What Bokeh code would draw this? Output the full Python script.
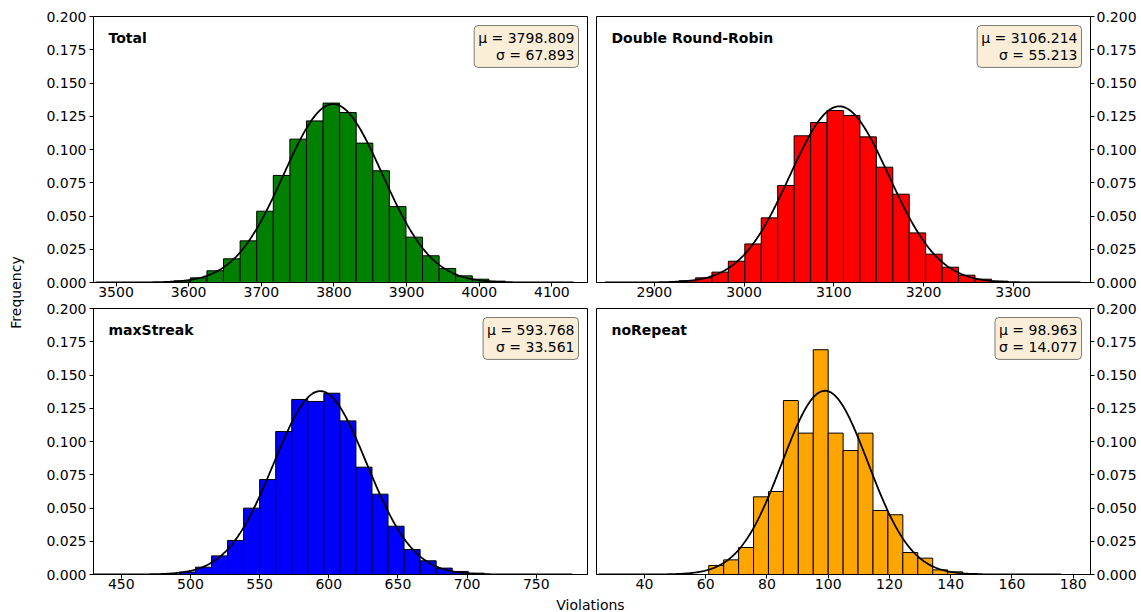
import numpy as np
from math import pi
from bokeh.plotting import figure
from bokeh.layouts import row, column
from bokeh.models import Range1d, FixedTicker, Label, PrintfTickFormatter, ColumnDataSource
from bokeh.embed import file_html
from bokeh.resources import INLINE

# ---------------- data ----------------
titles = ["Total", "Double Round-Robin", "maxStreak", "noRepeat"]
mu = [3798.809, 3106.214, 593.768, 98.963]
sigma = [67.893, 55.213, 33.561, 14.077]
bar_colors = ["#008000", "#ff0000", "#0000ff", "#ffa500"]

total_first_edge = 3579.5
total_bin_width = 22.83
total_freq = [0.0012, 0.0035, 0.0088, 0.0178, 0.0313, 0.0536, 0.0805, 0.1078, 0.1215, 0.1349,
              0.1278, 0.1048, 0.0840, 0.0571, 0.0341, 0.0201, 0.0105, 0.0050, 0.0025, 0.0010]

drr_first_edge = 2927.5
drr_bin_width = 18.33
drr_freq = [0.0013, 0.0035, 0.0078, 0.0160, 0.0290, 0.0486, 0.0729, 0.1103, 0.1203, 0.1293,
            0.1256, 0.1095, 0.0867, 0.0664, 0.0373, 0.0213, 0.0115, 0.0055, 0.0025, 0.0010]

streak_first_edge = 492.0
streak_bin_width = 11.6
streak_freq = [0.0018, 0.0055, 0.0140, 0.0256, 0.0499, 0.0714, 0.1075, 0.1316, 0.1301, 0.1363,
               0.1155, 0.0807, 0.0604, 0.0363, 0.0188, 0.0103, 0.0048, 0.0023, 0.0010]

norepeat_first_edge = 61.0
norepeat_bin_width = 4.875
norepeat_freq = [0.0068, 0.0110, 0.0203, 0.0584, 0.0624, 0.1308, 0.1063, 0.1690, 0.1063, 0.0932,
                 0.1063, 0.0481, 0.0449, 0.0165, 0.0123, 0.0035, 0.0020, 0.0007]

total_ticks = [3500, 3600, 3700, 3800, 3900, 4000, 4100]
drr_ticks = [2900, 3000, 3100, 3200, 3300]
streak_ticks = [450, 500, 550, 600, 650, 700, 750]
norepeat_ticks = [40, 60, 80, 100, 120, 140, 160, 180]
freq_ticks = [0.0, 0.025, 0.05, 0.075, 0.1, 0.125, 0.15, 0.175, 0.2]

x_limits = [(3469.0, 4149.0), (2835.5, 3386.2), (429.9, 787.0), (24.35, 185.65)]
curve_spans = [(3472.0, 4130.0), (2845.0, 3375.0), (430.0, 776.0), (25.0, 176.0)]

x_label = "Violations"
y_label = "Frequency"

FONT = "DejaVu Sans"
FW, FH = 494, 266


def make_panel(i, first_edge, bin_w, freq, ticks, right_axis, top_row):
    n = len(freq)
    left = [first_edge + k * bin_w for k in range(n)]
    right = [first_edge + (k + 1) * bin_w for k in range(n)]
    xr = x_limits[i]
    p = figure(
        frame_width=FW, frame_height=FH,
        x_range=Range1d(*xr), y_range=Range1d(0, 0.2),
        y_axis_location="right" if right_axis else "left",
        toolbar_location=None, output_backend="svg",
        min_border_left=5 if right_axis else 63,
        min_border_right=51 if right_axis else 4,
        min_border_top=16 if top_row else 14,
        min_border_bottom=22,
        background_fill_color="white",
        border_fill_color="white", border_fill_alpha=1.0 if top_row else 0.0,
        outline_line_color="black", outline_line_width=1,
    )
    p.grid.visible = False
    src = ColumnDataSource(dict(left=left, right=right, top=freq, bottom=[0] * n))
    p.quad(left="left", right="right", top="top", bottom="bottom", source=src,
           fill_color=bar_colors[i], line_color="black", line_width=1)
    # fitted normal curve (from the mu / sigma shown in the panel), scaled to bin width
    xs = np.linspace(curve_spans[i][0], curve_spans[i][1], 500)
    ys = bin_w * np.exp(-0.5 * ((xs - mu[i]) / sigma[i]) ** 2) / (sigma[i] * np.sqrt(2 * np.pi))
    p.line(xs, ys, line_color="black", line_width=1.8)

    p.xaxis.ticker = FixedTicker(ticks=ticks)
    p.yaxis.ticker = FixedTicker(ticks=freq_ticks)
    p.yaxis.formatter = PrintfTickFormatter(format="%.3f")
    for ax in (p.xaxis, p.yaxis):
        ax.axis_line_color = "black"
        ax.major_tick_line_color = "black"
        ax.minor_tick_line_color = None
        ax.major_tick_in = 0
        ax.major_tick_out = 4
        ax.major_label_text_font = FONT
        ax.major_label_text_font_size = "14px"
        ax.major_label_text_color = "black"
    p.xaxis.major_label_standoff = 0
    p.yaxis.major_label_standoff = 3 if not right_axis else 2

    span = xr[1] - xr[0]
    p.add_layout(Label(x=xr[0] + 15 / FW * span, y=0.2 - 21 / FH * 0.2, text=titles[i],
                       text_font=FONT, text_font_size="14px", text_font_style="bold",
                       text_baseline="middle", text_align="left", text_color="black"))
    stats = "\u03bc = %.3f\n\u03c3 = %.3f" % (mu[i], sigma[i])
    p.add_layout(Label(x=xr[1] - 9 / FW * span, y=0.2 - 9 / FH * 0.2, text=stats,
                       text_font=FONT, text_font_size="14px", text_align="right",
                       text_baseline="top", text_color="black", text_line_height=1.12,
                       background_fill_color="wheat", background_fill_alpha=0.5,
                       border_line_color="black", border_line_alpha=0.5, border_line_width=1,
                       padding=4, border_radius=4))
    return p


tl = make_panel(0, total_first_edge, total_bin_width, total_freq, total_ticks, False, True)
tr = make_panel(1, drr_first_edge, drr_bin_width, drr_freq, drr_ticks, True, True)
bl = make_panel(2, streak_first_edge, streak_bin_width, streak_freq, streak_ticks, False, False)
br = make_panel(3, norepeat_first_edge, norepeat_bin_width, norepeat_freq, norepeat_ticks, True, False)

fq = figure(width=30, height=612, x_range=Range1d(0, 30), y_range=Range1d(0, 612),
            x_axis_location=None, y_axis_location=None, toolbar_location=None,
            output_backend="svg", min_border=0, outline_line_color=None)
fq.grid.visible = False
fq.add_layout(Label(x=15, y=612 - 292, text=y_label, angle=pi / 2, text_align="center",
                    text_baseline="middle", text_font=FONT, text_font_size="14px",
                    text_color="black"))

vf = figure(width=1111, height=16, x_range=Range1d(30, 1141), y_range=Range1d(0, 16),
            x_axis_location=None, y_axis_location=None, toolbar_location=None,
            output_backend="svg", min_border=0, outline_line_color=None)
vf.grid.visible = False
vf.add_layout(Label(x=590, y=8, text=x_label, text_align="center", text_baseline="middle",
                    text_font=FONT, text_font_size="14px", text_color="black"))

top_row = row(tl, tr)
bottom_row = row(bl, br)
bottom_row.margin = (-10, 0, 0, 0)   # let the lower panels' top border overlap the upper x labels

layout = row(fq, column(top_row, bottom_row, vf))

open("out.html", "w").write(file_html(layout, INLINE))
